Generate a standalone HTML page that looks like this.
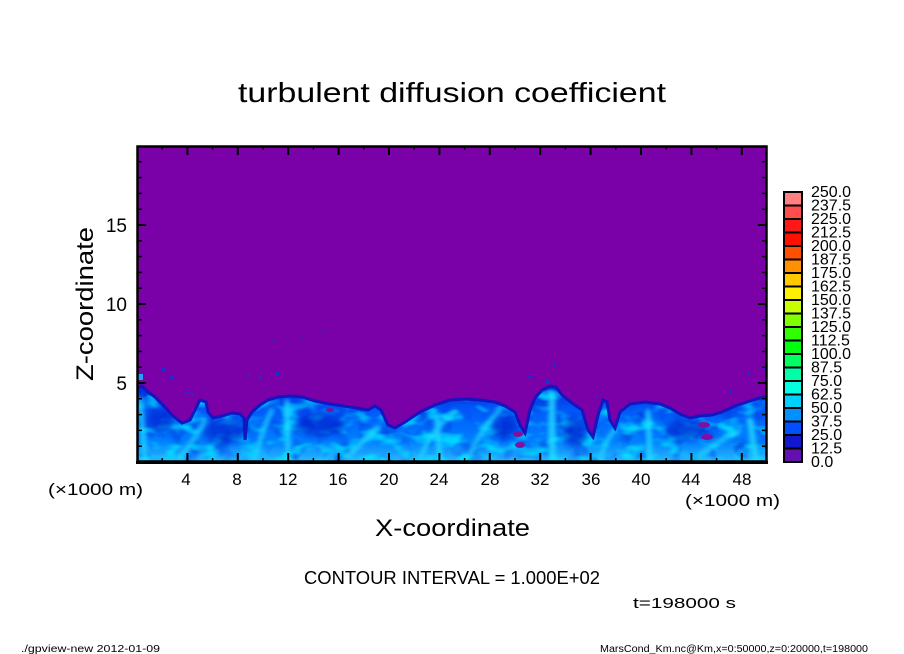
<!DOCTYPE html>
<html><head><meta charset="utf-8"><style>
html,body{margin:0;padding:0;background:#fff;}
svg{display:block;}
text{font-family:"Liberation Sans",sans-serif;fill:#000;}
</style></head><body>
<svg width="904" height="654" viewBox="0 0 904 654" xmlns="http://www.w3.org/2000/svg">
<defs>
<clipPath id="pc"><rect x="137" y="146" width="630" height="316"/></clipPath>
<clipPath id="bc"><polygon points="137,388 142,386 148,392 155,397 163,405 172,415 182,423 190,420 196,408 200,400 206,402 208,412 213,418 222,416 232,413 240,414 244,418 245,440 247,420 252,412 260,405 268,400 278,397 290,396 302,397 315,401 330,404 350,407 368,410 375,406 381,410 388,425 395,428 405,422 420,412 435,405 450,400 465,399 480,400 495,402 505,406 515,412 520,425 525,433 530,410 535,398 542,390 550,386 556,387 562,395 572,403 582,410 588,430 593,437 598,415 603,400 607,402 610,420 615,428 620,412 630,404 645,402 660,404 670,408 680,414 690,418 700,416 712,415 722,412 735,406 750,401 760,398 770,396 770,465 137,465"/></clipPath>
<linearGradient id="bl" x1="0" y1="0" x2="0" y2="1">
<stop offset="0" stop-color="#0028d8"/>
<stop offset="0.3" stop-color="#0058f8"/>
<stop offset="0.7" stop-color="#0080ff"/>
<stop offset="1" stop-color="#30c0ff"/>
</linearGradient>
<filter id="b2" x="-50%" y="-50%" width="200%" height="200%"><feGaussianBlur stdDeviation="2.5"/></filter>
<filter id="b4" x="-50%" y="-50%" width="200%" height="200%"><feGaussianBlur stdDeviation="4"/></filter>
<filter id="tx" x="0" y="0" width="100%" height="100%">
<feTurbulence type="fractalNoise" baseFrequency="0.05 0.09" numOctaves="2" seed="7"/>
<feColorMatrix type="matrix" values="0 0 0 0 0  0 0 0 0 0.85  0 0 0 0 1  3.2 0 0 0 -1.5"/>
</filter>
<filter id="tx2" x="0" y="0" width="100%" height="100%">
<feTurbulence type="fractalNoise" baseFrequency="0.06 0.05" numOctaves="2" seed="3"/>
<feColorMatrix type="matrix" values="0 0 0 0 0  0 0 0 0 0.05  0 0 0 0 0.75  3 0 0 0 -1.5"/>
</filter>
</defs>

<!-- title -->
<text x="238" y="102" font-size="28" textLength="428" lengthAdjust="spacingAndGlyphs">turbulent diffusion coefficient</text>

<!-- plot background -->
<rect x="137" y="146" width="630" height="316" fill="#7a00a8"/>

<g clip-path="url(#pc)">
<polygon fill="url(#bl)" points="137,388 142,386 148,392 155,397 163,405 172,415 182,423 190,420 196,408 200,400 206,402 208,412 213,418 222,416 232,413 240,414 244,418 245,440 247,420 252,412 260,405 268,400 278,397 290,396 302,397 315,401 330,404 350,407 368,410 375,406 381,410 388,425 395,428 405,422 420,412 435,405 450,400 465,399 480,400 495,402 505,406 515,412 520,425 525,433 530,410 535,398 542,390 550,386 556,387 562,395 572,403 582,410 588,430 593,437 598,415 603,400 607,402 610,420 615,428 620,412 630,404 645,402 660,404 670,408 680,414 690,418 700,416 712,415 722,412 735,406 750,401 760,398 770,396 770,465 137,465"/>
<g clip-path="url(#bc)">
<rect x="137" y="380" width="632" height="85" filter="url(#tx2)" opacity="0.7"/>
<rect x="137" y="380" width="632" height="85" filter="url(#tx)" opacity="0.75"/>
<!-- darker regions -->
<g fill="#0018c8" opacity="0.6" filter="url(#b4)">
<ellipse cx="225" cy="432" rx="22" ry="12"/>
<ellipse cx="320" cy="425" rx="25" ry="12"/>
<ellipse cx="505" cy="428" rx="14" ry="12"/>
<ellipse cx="575" cy="432" rx="12" ry="16"/>
<ellipse cx="685" cy="430" rx="20" ry="10"/>
<ellipse cx="160" cy="420" rx="14" ry="12"/>
</g>
<!-- cyan streaks -->
<g stroke="#20e0ff" fill="none" stroke-linecap="round" filter="url(#b2)" opacity="0.85">
<line x1="552" y1="395" x2="552" y2="462" stroke-width="7"/>
<line x1="437" y1="418" x2="440" y2="462" stroke-width="5"/>
<line x1="287" y1="402" x2="288" y2="462" stroke-width="5"/>
<line x1="345" y1="458" x2="378" y2="428" stroke-width="5"/>
<line x1="648" y1="412" x2="650" y2="462" stroke-width="5"/>
<line x1="750" y1="420" x2="756" y2="462" stroke-width="6"/>
<line x1="140" y1="400" x2="145" y2="458" stroke-width="5"/>
<path d="M420 460 Q430 430 455 412" stroke-width="4"/>
<path d="M470 455 Q480 430 500 410" stroke-width="4"/>
<path d="M600 460 Q605 440 615 430" stroke-width="4"/>
<path d="M700 455 Q720 440 740 430" stroke-width="4"/>
<path d="M180 458 Q195 440 205 420" stroke-width="4"/>
<path d="M255 460 Q262 430 272 410" stroke-width="4"/>
</g>
</g>
<polygon fill="none" stroke="#1414c0" stroke-width="3" points="137,388 142,386 148,392 155,397 163,405 172,415 182,423 190,420 196,408 200,400 206,402 208,412 213,418 222,416 232,413 240,414 244,418 245,440 247,420 252,412 260,405 268,400 278,397 290,396 302,397 315,401 330,404 350,407 368,410 375,406 381,410 388,425 395,428 405,422 420,412 435,405 450,400 465,399 480,400 495,402 505,406 515,412 520,425 525,433 530,410 535,398 542,390 550,386 556,387 562,395 572,403 582,410 588,430 593,437 598,415 603,400 607,402 610,420 615,428 620,412 630,404 645,402 660,404 670,408 680,414 690,418 700,416 712,415 722,412 735,406 750,401 760,398 770,396 770,465 137,465"/>
<!-- purple blobs -->
<g fill="#8010a0">
<ellipse cx="518" cy="434" rx="5" ry="3"/>
<ellipse cx="520" cy="445" rx="5" ry="3"/>
<ellipse cx="704" cy="425" rx="6" ry="3"/>
<ellipse cx="707" cy="437" rx="6" ry="3"/>
<ellipse cx="330" cy="410" rx="4" ry="2"/>
</g>
<!-- scattered dots -->
<g fill="#1830d0">
<rect x="162" y="368" width="3" height="3"/>
<rect x="170" y="376" width="3" height="3"/>
<rect x="185" y="391" width="4" height="3"/>
<rect x="191" y="393" width="3" height="3"/>
<rect x="272" y="339" width="2" height="2"/>
<rect x="301" y="337" width="2" height="2"/>
<rect x="321" y="330" width="2" height="2"/>
<rect x="247" y="373" width="3" height="3"/>
<rect x="259" y="376" width="3" height="3"/>
<rect x="275" y="372" width="4" height="4"/>
<rect x="528" y="375" width="3" height="3"/>
<rect x="553" y="364" width="3" height="3"/>
<rect x="545" y="380" width="4" height="4"/>
<rect x="595" y="395" width="3" height="3"/>
<rect x="729" y="390" width="3" height="3"/>
<rect x="747" y="372" width="3" height="3"/>
<rect x="763" y="367" width="3" height="3"/>
<rect x="138" y="374" width="5" height="6" fill="#20a0ff"/>
</g>
</g>

<!-- frame -->
<rect x="137.5" y="146.5" width="629" height="315" fill="none" stroke="#000" stroke-width="2.5"/>
<line x1="136" y1="462.5" x2="768" y2="462.5" stroke="#000" stroke-width="3"/>

<!-- ticks -->
<g stroke="#000" stroke-width="2">
<path d="M187.4 462v-9M237.8 462v-9M288.2 462v-9M338.6 462v-9M389 462v-9M439.4 462v-9M489.8 462v-9M540.2 462v-9M590.6 462v-9M641 462v-9M691.4 462v-9M741.8 462v-9
M187.4 146v9M237.8 146v9M288.2 146v9M338.6 146v9M389 146v9M439.4 146v9M489.8 146v9M540.2 146v9M590.6 146v9M641 146v9M691.4 146v9M741.8 146v9"/>
<path d="M137 383h9M137 304h9M137 225h9M767 383h-9M767 304h-9M767 225h-9"/>
</g>
<g stroke="#000" stroke-width="1.5">
<path d="M162.2 462v-4M212.6 462v-4M263 462v-4M313.4 462v-4M363.8 462v-4M414.2 462v-4M464.6 462v-4M515 462v-4M565.4 462v-4M615.8 462v-4M666.2 462v-4M716.6 462v-4
M162.2 146v4M212.6 146v4M263 146v4M313.4 146v4M363.8 146v4M414.2 146v4M464.6 146v4M515 146v4M565.4 146v4M615.8 146v4M666.2 146v4M716.6 146v4"/>
<path d="M137 446.2h5M137 430.4h5M137 414.6h5M137 398.8h5M137 367.2h5M137 351.4h5M137 335.6h5M137 319.8h5M137 288.2h5M137 272.4h5M137 256.6h5M137 240.8h5M137 209.2h5M137 193.4h5M137 177.6h5M137 161.8h5
M767 446.2h-5M767 430.4h-5M767 414.6h-5M767 398.8h-5M767 367.2h-5M767 351.4h-5M767 335.6h-5M767 319.8h-5M767 288.2h-5M767 272.4h-5M767 256.6h-5M767 240.8h-5M767 209.2h-5M767 193.4h-5M767 177.6h-5M767 161.8h-5"/>
</g>

<!-- y tick labels -->
<g font-size="19" text-anchor="end">
<text x="127" y="232">15</text>
<text x="127" y="311">10</text>
<text x="127" y="390">5</text>
</g>
<text transform="translate(93,304) rotate(-90)" font-size="24" text-anchor="middle" textLength="154" lengthAdjust="spacingAndGlyphs">Z-coordinate</text>

<!-- x tick labels -->
<g font-size="17" text-anchor="middle">
<text x="186" y="485">4</text>
<text x="237" y="485">8</text>
<text x="288" y="485">12</text>
<text x="338" y="485">16</text>
<text x="389" y="485">20</text>
<text x="439" y="485">24</text>
<text x="490" y="485">28</text>
<text x="540" y="485">32</text>
<text x="591" y="485">36</text>
<text x="641" y="485">40</text>
<text x="691" y="485">44</text>
<text x="742" y="485">48</text>
</g>
<text x="48" y="495" font-size="17" textLength="95" lengthAdjust="spacingAndGlyphs">(×1000 m)</text>
<text x="685" y="506" font-size="17" textLength="95" lengthAdjust="spacingAndGlyphs">(×1000 m)</text>
<text x="375" y="536" font-size="24" textLength="155" lengthAdjust="spacingAndGlyphs">X-coordinate</text>

<text x="304" y="584" font-size="18" textLength="296" lengthAdjust="spacingAndGlyphs">CONTOUR INTERVAL = 1.000E+02</text>
<text x="633" y="608" font-size="15" textLength="103" lengthAdjust="spacingAndGlyphs">t=198000 s</text>

<text x="21" y="652" font-size="10" textLength="139" lengthAdjust="spacingAndGlyphs">./gpview-new  2012-01-09</text>
<text x="600" y="652" font-size="10" textLength="268" lengthAdjust="spacingAndGlyphs">MarsCond_Km.nc@Km,x=0:50000,z=0:20000,t=198000</text>

<!-- colorbar -->
<g stroke="#000" stroke-width="2">
<rect x="784" y="192" width="18" height="13.5" fill="#ff8080"/>
<rect x="784" y="205.5" width="18" height="13.5" fill="#ff4c4c"/>
<rect x="784" y="219" width="18" height="13.5" fill="#ff1818"/>
<rect x="784" y="232.5" width="18" height="13.5" fill="#ff1000"/>
<rect x="784" y="246" width="18" height="13.5" fill="#ff5000"/>
<rect x="784" y="259.5" width="18" height="13.5" fill="#ff9000"/>
<rect x="784" y="273" width="18" height="13.5" fill="#ffc800"/>
<rect x="784" y="286.5" width="18" height="13.5" fill="#fff000"/>
<rect x="784" y="300" width="18" height="13.5" fill="#c8ff00"/>
<rect x="784" y="313.5" width="18" height="13.5" fill="#80ff00"/>
<rect x="784" y="327" width="18" height="13.5" fill="#30ff00"/>
<rect x="784" y="340.5" width="18" height="13.5" fill="#00ff10"/>
<rect x="784" y="354" width="18" height="13.5" fill="#00ff60"/>
<rect x="784" y="367.5" width="18" height="13.5" fill="#00ffa8"/>
<rect x="784" y="381" width="18" height="13.5" fill="#00ffe0"/>
<rect x="784" y="394.5" width="18" height="13.5" fill="#00d0ff"/>
<rect x="784" y="408" width="18" height="13.5" fill="#0090ff"/>
<rect x="784" y="421.5" width="18" height="13.5" fill="#0050ff"/>
<rect x="784" y="435" width="18" height="13.5" fill="#1018d0"/>
<rect x="784" y="448.5" width="18" height="13.5" fill="#6410b0"/>
</g>
<g font-size="16">
<text x="811" y="197">250.0</text>
<text x="811" y="210.5">237.5</text>
<text x="811" y="224">225.0</text>
<text x="811" y="237.5">212.5</text>
<text x="811" y="251">200.0</text>
<text x="811" y="264.5">187.5</text>
<text x="811" y="278">175.0</text>
<text x="811" y="291.5">162.5</text>
<text x="811" y="305">150.0</text>
<text x="811" y="318.5">137.5</text>
<text x="811" y="332">125.0</text>
<text x="811" y="345.5">112.5</text>
<text x="811" y="359">100.0</text>
<text x="811" y="372.5">87.5</text>
<text x="811" y="386">75.0</text>
<text x="811" y="399.5">62.5</text>
<text x="811" y="413">50.0</text>
<text x="811" y="426.5">37.5</text>
<text x="811" y="440">25.0</text>
<text x="811" y="453.5">12.5</text>
<text x="811" y="467">0.0</text>
</g>
</svg>
</body></html>
